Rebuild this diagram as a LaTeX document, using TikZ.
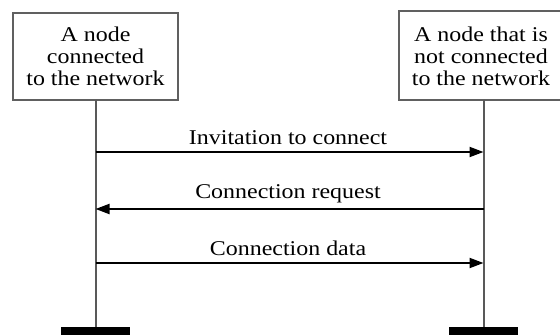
\documentclass[tikz,border=0pt]{standalone}
\usepackage{fontspec}
\setmainfont[FakeStretch=1.14]{Liberation Serif}
\usetikzlibrary{arrows.meta}
\begin{document}
\begin{tikzpicture}[x=0.5pt,y=-0.5pt,
  actor/.style={draw=gray!75!black,line width=0.75pt,fill=white,inner sep=0pt,
    minimum width=82.5pt,align=center,font=\fontsize{10.5}{11}\selectfont},
  txt/.style={inner sep=0pt,align=center,font=\fontsize{10.5}{11}\selectfont},
  life/.style={draw=gray!70!black,line width=1pt},
  msg/.style={draw=black,line width=1pt,-{Triangle[length=7pt,width=5pt]}},
  lbl/.style={anchor=base,inner sep=0pt,font=\fontsize{10.5}{11}\selectfont},
  bar/.style={fill=black,inner sep=0pt,minimum width=34.5pt,minimum height=5.5pt}]
\useasboundingbox (0,0) rectangle (560,335);
\node[actor,minimum height=43.5pt] (A) at (95.5,56.5) {A node\\connected\\to the network};
\node[actor,minimum width=95pt,minimum height=44.5pt] (B) at (494,55.5) {};
\node[txt] (Bt) at (481,56) {A node that is\\not connected\\to the network};
\node[bar] (Abar) at (95.5,332.5) {};
\node[bar] (Bbar) at (483.5,332.5) {};
\coordinate (Atop) at (95.5,100);
\coordinate (Btop) at (483.5,100);
\draw[life] (Atop) -- (Abar.north);
\draw[life] (Btop) -- (Bbar.north);
\coordinate (a1) at (95.5,152);
\coordinate (b1) at (483.5,152);
\coordinate (a2) at (95.5,209);
\coordinate (b2) at (483.5,209);
\coordinate (a3) at (95.5,263);
\coordinate (b3) at (483.5,263);
\draw[msg] (a1) -- (b1);
\draw[msg] (b2) -- (a2);
\draw[msg] (a3) -- (b3);
\node[lbl] (t1) at (288,145) {Invitation to connect};
\node[lbl] (t2) at (288,199) {Connection request};
\node[lbl] (t3) at (288,256) {Connection data};
\end{tikzpicture}
\end{document}
